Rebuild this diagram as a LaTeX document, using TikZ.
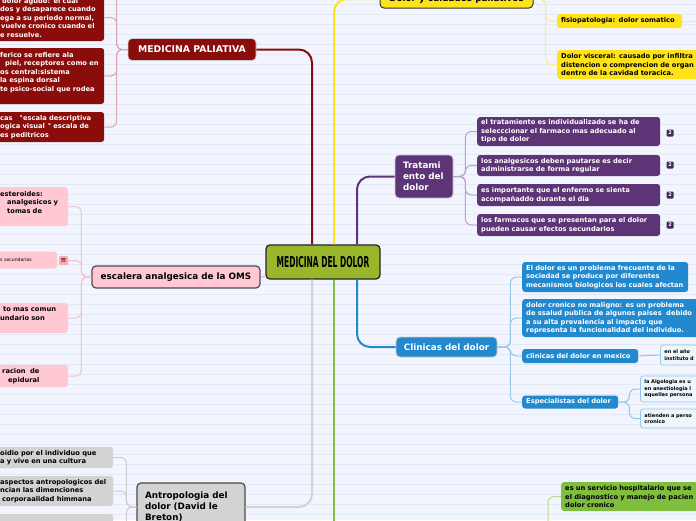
\documentclass[tikz,border=0pt]{standalone}
\usepackage{fontspec}
\setmainfont{DejaVu Sans}
\usetikzlibrary{positioning}
\definecolor{paper}{HTML}{F2F5FD}
\definecolor{rule}{HTML}{E2E8F5}
\definecolor{moss}{HTML}{9AB62B}
\definecolor{wine}{HTML}{8A0D0B}
\definecolor{winelink}{HTML}{D9A6A9}
\definecolor{sun}{HTML}{FFE31A}
\definecolor{sunlink}{HTML}{FBE98A}
\definecolor{plum}{HTML}{5D3475}
\definecolor{plumlink}{HTML}{B9A5C9}
\definecolor{plumdark}{HTML}{47275B}
\definecolor{sky}{HTML}{2289CF}
\definecolor{skylink}{HTML}{98C6EA}
\definecolor{blush}{HTML}{FFC8D3}
\definecolor{blushlink}{HTML}{F5BFCB}
\definecolor{ash}{HTML}{D3D3D3}
\definecolor{ashlink}{HTML}{CDCDCD}
\definecolor{leaf}{HTML}{80BE3F}
\definecolor{leaflink}{HTML}{B5DB8A}

\tikzset{
  box/.style={anchor=west,rounded corners=3pt,inner xsep=4pt,inner ysep=0pt,
    align=left,font=\bfseries\fontsize{6.7}{8.5}\selectfont},
  redbox/.style={box,fill=wine,text=white,inner xsep=3pt,text width=101pt},
  tiny/.style={box,fill=white!92!sky,draw=skylink,line width=0.8pt,
    font=\bfseries\fontsize{5}{6.6}\selectfont},
  topic/.style={rounded corners=4pt,inner sep=0pt,align=center,
    font=\bfseries\fontsize{8.8}{11.2}\selectfont},
  branch/.style={line width=2pt,rounded corners=13pt},
  twig/.style={line width=1pt,rounded corners=6pt},
  badge/.style={fill=plumdark,text=white,rounded corners=1pt,minimum size=7pt,
    inner sep=0pt,font=\bfseries\fontsize{5}{5}\selectfont},
}

\begin{document}
\begin{tikzpicture}[x=1pt,y=-1pt]
  \useasboundingbox (0,0) rectangle (696,520);
  \clip (0,0) rectangle (696,520);
  \fill[paper] (0,0) rectangle (696,520);
  \foreach \y in {4,14,...,514}{
    \draw[rule,line width=0.7pt] (0,\y) -- (696,\y);
  }

  % centre
  \node[topic,fill=moss,draw=black!85,line width=1.3pt,minimum width=114pt,
        minimum height=34pt] (cen) at (323,262)
    {\scalebox{0.5}[1]{\fontsize{15}{15}\selectfont MEDICINA DEL DOLOR}};

  % Medicina paliativa
  \node[topic,fill=wine,text=white,draw=white!80!black,line width=0.8pt,
        minimum width=128pt,minimum height=22pt,
        font=\bfseries\fontsize{9.3}{11}\selectfont] (pal) at (192,49.5)
    {MEDICINA PALIATIVA};
  \node[redbox,minimum height=47pt] (pa1) at (-3,17.5)
    {\hspace*{2pt}dolor agudo: el cual\\dos y desaparece cuando\\
     ega a su periodo normal,\\\hspace*{1pt}vuelve cronico cuando el\\
     e resuelve.};
  \node[redbox,minimum height=56pt] (pa2) at (-3,76)
    {ferico se refiere ala\\\hspace*{5pt}piel, receptores como en\\
     os central:sistema\\la espina dorsal\\te psico-social que rodea\\\mbox{}};
  \node[redbox,minimum height=30pt] (pa3) at (-3,127)
    {cas\hspace{7pt}°escala descriptiva\\ogica visual\hspace{3pt}° escala de\\
     es peditricos};
  \coordinate (pa0) at (104,-40);

  % Dolor y cuidados paliativos
  \node[topic,fill=sun,draw=black!80,line width=1pt,minimum width=153pt,
        minimum height=18pt] (yel) at (456.5,-1)
    {Dolor y cuidados paliativos};
  \node[box,fill=sun,text width=117pt,minimum height=14pt] (y1) at (557,21)
    {fisiopatologia: dolor somatico};
  \node[box,fill=sun,text width=160pt,minimum height=29pt] (y2) at (557,64.5)
    {Dolor visceral: causado por infiltra\\distencion o comprencion de organ\\
     dentro de la cavidad toracica.};
  \coordinate (y1out) at (720,21);

  % Tratamiento del dolor
  \node[topic,fill=plum,text=white,draw=white!80!black,line width=0.8pt,
        minimum width=58pt,minimum height=43pt,text width=42pt,align=left]
    (trt) at (424,176.5) {Tratami\\ento del\\dolor};
  \node[box,fill=plum,text=white,text width=175pt,minimum height=29pt] (t1)
    at (477,131.5)
    {el tratamiento es individualizado se ha de\\
     selecccionar el farmaco mas adecuado al\\tipo de dolor};
  \node[box,fill=plum,text=white,text width=175pt,minimum height=21pt] (t2)
    at (477,165.5)
    {los analgesicos deben pautarse es decir\\administrarse de forma regular};
  \node[box,fill=plum,text=white,text width=175pt,minimum height=22pt] (t3)
    at (477,195)
    {es importante que el enfermo se sienta\\acompañaddo durante el dia};
  \node[box,fill=plum,text=white,text width=175pt,minimum height=22pt] (t4)
    at (477,225)
    {los farmacos que se presentan para el dolor\\pueden causar efectos secundarios};
  \foreach \y [count=\i] in {133,165,195,225}{
    \node[badge] (b\i) at (670,\y) {2};
  }

  % Clinicas del dolor
  \node[topic,fill=sky,text=white,draw=white!80!black,line width=0.8pt,
        minimum width=101pt,minimum height=20pt] (cln) at (446.5,347)
    {Clinicas del dolor};
  \node[box,fill=sky,text=white,text width=158pt,minimum height=30pt] (k1)
    at (522,277)
    {El dolor es un problema frecuente de la\\sociedad se produce por diferentes\\
     mecanismos biologicos los cuales afectan};
  \node[box,fill=sky,text=white,text width=200pt,minimum height=38pt] (k2)
    at (522,318)
    {dolor cronico no maligno: es un problema\\
     de ssalud publica de algunos paises\ \ debido\\
     a su alta prevalencia al impacto que\\
     representa la funcionalidad del individuo.};
  \node[box,fill=sky,text=white,text width=108pt,minimum height=14pt] (k3)
    at (522,356) {clinicas del dolor en mexico};
  \node[box,fill=sky,text=white,text width=88pt,minimum height=13pt] (k4)
    at (522,402) {Especialistas del dolor};
  \node[tiny,text width=60pt,minimum height=20pt] (w1) at (660,355)
    {en el año\\instituto d};
  \node[tiny,text width=80pt,minimum height=26pt] (w2) at (640,389)
    {la Algologia es u\\en anestiologia l\\aquellas persona};
  \node[tiny,text width=80pt,minimum height=19pt] (w3) at (640,418.5)
    {atienden a perso\\cronico};

  % escalera analgesica
  \node[topic,fill=blush,draw=black!70,line width=1.2pt,minimum width=168pt,
        minimum height=22pt] (esc) at (176,277)
    {escalera analgesica de la OMS};
  \node[box,fill=blush,text width=64pt,minimum height=39pt] (p1) at (-4,206.5)
    {esteroides:\\\hspace*{7pt}analgesicos y\\\hspace*{7pt}tomas de\\\mbox{}};
  \node[box,fill=blush,text width=53pt,minimum height=17pt,
        font=\fontsize{4.6}{5}\selectfont] (p2) at (-4,260) {s secundarios};
  \node[fill=blush!85!red,rounded corners=1pt,minimum size=9pt,inner sep=0pt,
        font=\fontsize{7}{7}\selectfont] (pb) at (63.5,260.5) {≡};
  \node[box,fill=blush,text width=64pt,minimum height=30pt] (p3) at (-4,318)
    {\hspace*{3pt}to mas comun\\undario son\\\mbox{}};
  \node[box,fill=blush,text width=64pt,minimum height=22pt] (p4) at (-4,376)
    {\hspace*{2pt}racion\ \ de\\\hspace*{8pt}epidural};

  % Antropologia del dolor
  \node[topic,fill=ash,draw=black!70,line width=1.2pt,minimum width=108pt,
        minimum height=48pt,text width=92pt,align=left] (ant) at (191,507)
    {Antropologia del\\dolor (David le\\Breton)};
  \node[box,fill=ash,text width=109pt,minimum height=21pt] (g1) at (-4,457.5)
    {oidio por el individuo que\\a y vive en una cultura};
  \node[box,fill=ash,text width=109pt,minimum height=30pt] (g2) at (-4,491)
    {aspectos antropologicos del\\ncian las dimenciones\\
     \hspace*{2pt}corporaalidad himmana};
  \node[box,fill=ash,text width=109pt,minimum height=30pt] (g3) at (-4,529) {};

  % servicio hospitalario
  \node[box,fill=leaf,text width=160pt,minimum height=29pt] (grn) at (561,496.5)
    {es un servicio hospitalario que se\\el diagnostico y manejo de pacien\\
     dolor cronico};
  \coordinate (leafend) at (334,540);
  \coordinate (leafup) at (548,540);

  % main branches
  \draw[branch,wine] (pal.east) -| ([xshift=-11pt]cen.north);
  \draw[branch,sun] ([xshift=11pt]cen.north) |- (yel.west);
  \draw[branch,plum] ([xshift=34pt]cen.north) |- (trt.west);
  \draw[branch,ash] ([xshift=-11pt]cen.south) |- (ant.east);
  \draw[branch,leaf] ([xshift=11pt]cen.south) -- (leafend);
  \draw[branch,sky] ([xshift=34pt]cen.south) |- (cln.west);
  \draw[line width=1.3pt,blushlink] (esc.east) -- (cen.west |- esc.east);

  % sub branches
  \foreach \n in {pa0,pa1,pa2,pa3}{
    \draw[twig,winelink] (pal.west) -- ++(-11,0) |- (\n.east);
  }
  \foreach \n in {y1,y2}{
    \draw[twig,sunlink] (yel.east) -- ++(12,0) |- (\n.west);
  }
  \draw[twig,sunlink] (y1.east) -- (y1out);
  \foreach \n in {t1,t2,t3,t4}{
    \draw[twig,plumlink] (trt.east) -- ++(12,0) |- (\n.west);
  }
  \foreach \n in {k1,k2,k3,k4}{
    \draw[twig,skylink] (cln.east) -- ++(13,0) |- (\n.west);
  }
  \draw[twig,skylink] (k3.east) -- (w1.west);
  \foreach \n in {w2,w3}{
    \draw[twig,skylink] (k4.east) -- ++(11,0) |- (\n.west);
  }
  \foreach \n in {p1,pb,p3,p4}{
    \draw[twig,blushlink] (esc.west) -- ++(-10,0) |- (\n.east);
  }
  \foreach \n in {g1,g2,g3}{
    \draw[twig,ashlink] (ant.west) -- ++(-10,0) |- (\n.east);
  }
  \draw[twig,leaflink] (grn.west) -- ++(-13,0) -- (leafup);
\end{tikzpicture}
\end{document}
